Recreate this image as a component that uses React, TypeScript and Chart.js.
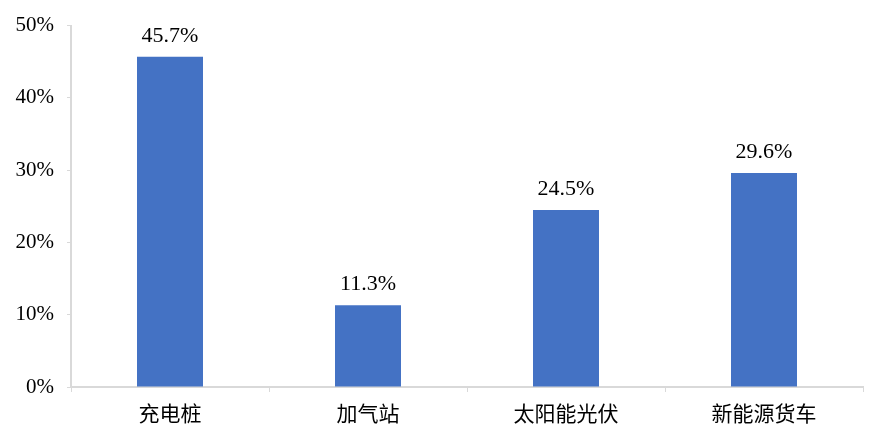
import React, { useEffect, useRef } from "react";
import { Chart, registerables } from "chart.js";

Chart.register(...registerables);

const categories = ["充电桩", "加气站", "太阳能光伏", "新能源货车"];
const values = [45.7, 11.3, 24.5, 29.6];
const valueLabels = ["45.7%", "11.3%", "24.5%", "29.6%"];

const SERIF = "'Liberation Serif', 'Times New Roman', serif";
const CJK = "'Noto Sans CJK SC', sans-serif";

const labelPlugin = {
  id: "valueLabels",
  afterDatasetsDraw(chart: any) {
    const ctx = chart.ctx;
    const meta = chart.getDatasetMeta(0);
    ctx.save();
    ctx.font = `22px ${SERIF}`;
    ctx.fillStyle = "#000000";
    ctx.textAlign = "center";
    ctx.textBaseline = "alphabetic";
    meta.data.forEach((bar: any, i: number) => {
      ctx.fillText(valueLabels[i], bar.x, bar.y - 15);
    });
    ctx.restore();
  },
};

export default function App() {
  const ref = useRef<HTMLCanvasElement>(null);
  useEffect(() => {
    document.body.style.margin = "0";
    const chart = new Chart(ref.current!, {
      type: "bar",
      data: {
        labels: categories,
        datasets: [
          {
            data: values,
            backgroundColor: "#4472C4",
            categoryPercentage: 1,
            barPercentage: 1 / 3,
          },
        ],
      },
      options: {
        responsive: false,
        animation: false,
        layout: { padding: { left: 0, right: 23, top: 23, bottom: 0 } },
        plugins: { legend: { display: false }, tooltip: { enabled: false } },
        scales: {
          x: {
            offset: true,
            grid: {
              offset: true,
              drawOnChartArea: false,
              drawTicks: true,
              tickLength: 5,
              color: "#d9d9d9",
            },
            border: { color: "#d9d9d9", width: 2 },
            ticks: {
              color: "#000000",
              font: { family: CJK, size: 21 },
              padding: 8,
            },
            afterFit(scale: any) {
              scale.height = 56;
            },
          },
          y: {
            min: 0,
            max: 50,
            grid: {
              drawOnChartArea: false,
              drawTicks: true,
              tickLength: 4,
              color: "#d9d9d9",
            },
            border: { color: "#d9d9d9", width: 2 },
            ticks: {
              stepSize: 10,
              color: "#000000",
              font: { family: SERIF, size: 21 },
              padding: 13,
              callback: (v: any) => `${v}%`,
            },
            afterFit(scale: any) {
              scale.width = 71;
            },
          },
        },
      },
      plugins: [labelPlugin],
    });
    return () => chart.destroy();
  }, []);
  return (
    <div style={{ width: 886, height: 443 }}>
      <canvas ref={ref} width={886} height={443} style={{ display: "block" }} />
    </div>
  );
}
